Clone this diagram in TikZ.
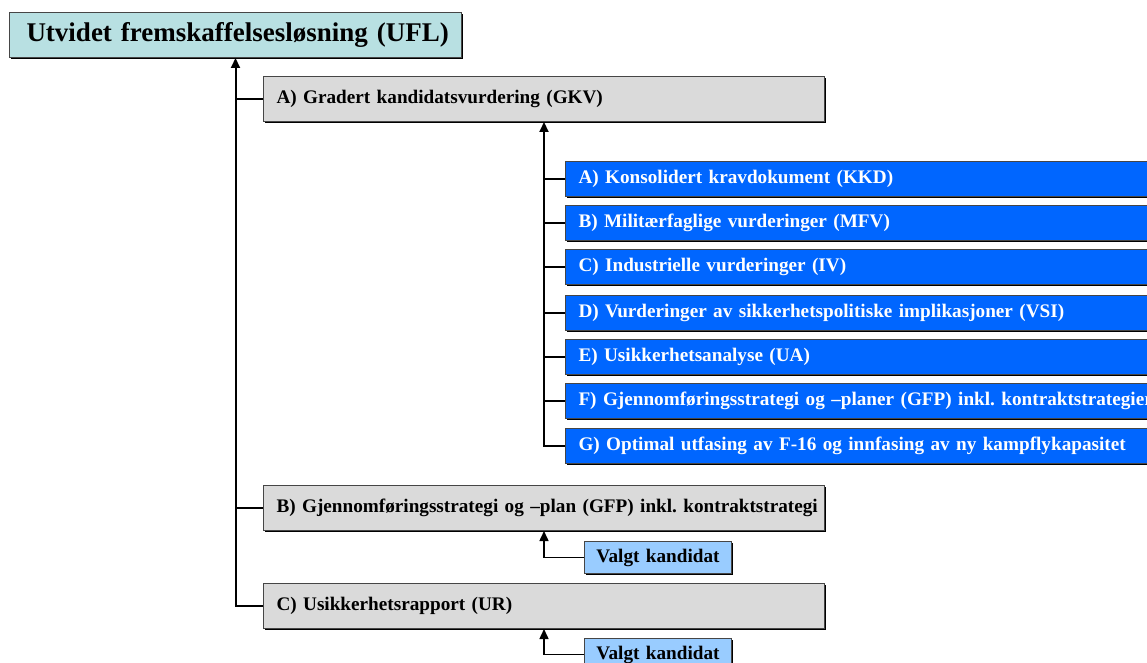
\documentclass[tikz,border=0pt]{standalone}
\usepackage{fontspec}
\setmainfont{Liberation Serif}
\usetikzlibrary{arrows.meta,shadows}
\definecolor{topfill}{RGB}{184,224,226}
\definecolor{greyfill}{RGB}{218,218,218}
\definecolor{bluefill}{RGB}{0,102,255}
\definecolor{lightblue}{RGB}{153,204,255}
\definecolor{edge}{RGB}{70,70,70}
\tikzset{
  basebox/.style={draw=edge, line width=1pt, anchor=north west, align=left,
    inner ysep=0pt, font=\frenchspacing\bfseries\fontsize{19.2}{22}\selectfont,
    execute at begin node={\hbox\bgroup}, execute at end node={\egroup},
    drop shadow={shadow xshift=1.3pt, shadow yshift=-1.3pt, fill=black, opacity=1}},
  rootbox/.style={basebox, fill=topfill, text width=418pt, inner xsep=17pt,
    minimum height=45pt, font=\frenchspacing\bfseries\fontsize{27}{32}\selectfont},
  greybox/.style={basebox, fill=greyfill, text width=535pt, inner xsep=13pt, minimum height=45pt},
  bluebox/.style={basebox, fill=bluefill, text=white, text width=640pt, inner xsep=13pt, minimum height=35pt},
  pickbox/.style={basebox, fill=lightblue, text width=135pt, inner xsep=6pt, align=center, minimum height=32pt},
  trunk/.style={line width=2pt},
  branch/.style={line width=1.5pt},
  up/.style={-{Triangle[length=10pt,width=9pt]}}
}
\begin{document}
\begin{tikzpicture}[x=1pt,y=-1pt]
\useasboundingbox (0,0) rectangle (1147,663);
\clip (0,0) rectangle (1147,663);

% top level
\node[rootbox] (UFL) at (9,12) {Utvidet fremskaffelsesløsning (UFL)};

% second level
\node[greybox] (GKV) at (263,76) {A) Gradert kandidatsvurdering (GKV)};
\node[greybox] (GFP) at (263,485) {B) Gjennomføringsstrategi og –plan (GFP) inkl. kontraktstrategi};
\node[greybox] (UR)  at (263,583) {C) Usikkerhetsrapport (UR)};

% parts of the graded candidate assessment
\node[bluebox] (KKD) at (565,161) {A) Konsolidert kravdokument (KKD)};
\node[bluebox] (MFV) at (565,205) {B) Militærfaglige vurderinger (MFV)};
\node[bluebox] (IV)  at (565,249) {C) Industrielle vurderinger (IV)};
\node[bluebox] (VSI) at (565,295) {D) Vurderinger av sikkerhetspolitiske implikasjoner (VSI)};
\node[bluebox] (UA)  at (565,339) {E) Usikkerhetsanalyse (UA)};
\node[bluebox] (GFPp) at (565,383) {F) Gjennomføringsstrategi og –planer (GFP) inkl. kontraktstrategier};
\node[bluebox] (OPT) at (565,428) {G) Optimal utfasing av F-16 og innfasing av ny kampflykapasitet};

% chosen candidate inputs
\node[pickbox] (VK1) at (584,541) {Valgt kandidat};
\node[pickbox] (VK2) at (584,638) {Valgt kandidat};

% main trunk
\draw[trunk,up] (UR.west) -| (UFL.south);
\draw[branch] (UFL.south |- GKV.west) -- (GKV.west);
\draw[branch] (UFL.south |- GFP.west) -- (GFP.west);
\draw[branch] (UFL.south |- UR.west) -- (UR.west);

% sub trunk
\draw[trunk,up] (OPT.west) -| (GKV.south);
\foreach \n in {KKD,MFV,IV,VSI,UA,GFPp,OPT}
  \draw[branch] (GKV.south |- \n.west) -- (\n.west);

% chosen candidate connectors
\draw[branch,up] (VK1.west) -| (GFP.south);
\draw[branch,up] (VK2.west) -| (UR.south);
\end{tikzpicture}
\end{document}
